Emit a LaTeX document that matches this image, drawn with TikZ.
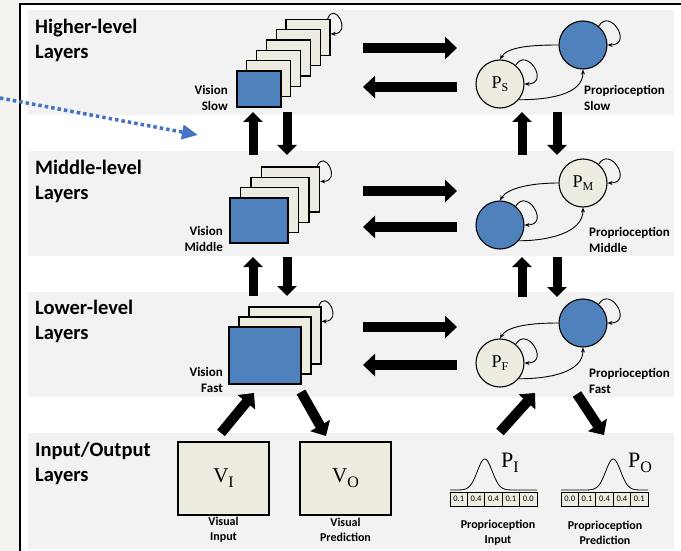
\documentclass[tikz,border=0pt]{standalone}
\usepackage{fontspec}
\setmainfont{Carlito}
\newfontfamily\symfont{Liberation Serif}
\usetikzlibrary{arrows.meta}
\definecolor{pageback}{HTML}{F4F3EF}
\definecolor{bandgray}{HTML}{F2F2F2}
\definecolor{unitblue}{HTML}{4F81BD}
\definecolor{unitbeige}{HTML}{EEECE1}
\definecolor{hintblue}{HTML}{4472C4}
% symbol with a lowered subscript: size, letter, subsize, subletter, drop
\newcommand\symsub[5]{{\symfont\fontsize{#1}{#1}\selectfont #2\raisebox{-#5pt}{\fontsize{#3}{#3}\selectfont #4}}}
\begin{document}
\begin{tikzpicture}[x=1pt,y=-1pt,
  band/.style={fill=bandgray},
  layerlabel/.style={font=\fontsize{20.5}{25}\selectfont\bfseries, align=left, anchor=north west, inner sep=0pt},
  sidelabel/.style={font=\fontsize{13}{16.5}\selectfont\bfseries, inner sep=0pt},
  caption/.style={font=\fontsize{12}{15}\selectfont\bfseries, align=center, inner sep=0pt},
  card/.style={draw, line width=1.3pt, fill=unitbeige, inner sep=0pt},
  frontcard/.style={card, fill=unitblue},
  unit/.style={circle, draw, line width=1.1pt, minimum size=48pt, inner sep=0pt},
  protounit/.style={unit, fill=unitbeige},
  blueunit/.style={unit, fill=unitblue},
  iobox/.style={draw, line width=1.8pt, fill=unitbeige, minimum width=91pt, minimum height=73pt, inner sep=0pt},
  cell/.style={draw, line width=0.8pt, fill=unitbeige, minimum width=17.4pt, minimum height=14pt, inner sep=0pt, font=\fontsize{8.5}{8.5}\selectfont},
  thinarrow/.style={line width=0.9pt, -{Stealth[length=5pt,width=4pt]}},
  vbig/.style={line width=9pt, -{Triangle[width=19pt,length=10pt]}},
  hbig/.style={line width=10pt, -{Triangle[width=22pt,length=12pt]}},
  dbig/.style={line width=10pt, -{Triangle[width=22pt,length=12pt]}},
]
\useasboundingbox (0,0) rectangle (681,551);
% page and frame
\fill[pageback] (0,0) rectangle (681,551);
\fill[white] (20,4) rectangle (681,551);
\draw[line width=2pt] (20,551) -- (20,4) -- (681,4);

% layer bands
\fill[band] (28,10) rectangle (674,115);
\fill[band] (28,151) rectangle (674,256);
\fill[band] (28,292) rectangle (674,397);
\fill[band] (28,433) rectangle (674,549);

% layer names
\node[layerlabel] (lhigh) at (35,19) {Higher-level\\Layers};
\node[layerlabel] (lmid) at (35,160) {Middle-level\\Layers};
\node[layerlabel] (llow) at (35,300) {Lower-level\\Layers};
\node[layerlabel] (lio) at (35,442) {Input/Output\\Layers};

% vision stacks
\foreach \i in {5,4,3,2,1}
  \node[card, minimum width=44pt, minimum height=36pt] (hs\i) at ({259+9.8*\i},{89-10.3*\i}) {};
\node[frontcard, minimum width=44pt, minimum height=36pt] (hs0) at (259,89) {};
\foreach \i in {3,2,1}
  \node[card, minimum width=58pt, minimum height=45pt] (ms\i) at ({259+10.5*\i},{220.5-10.3*\i}) {};
\node[frontcard, minimum width=58pt, minimum height=45pt] (ms0) at (259,220.5) {};
\foreach \i in {2,1}
  \node[card, minimum width=72pt, minimum height=57pt] (ls\i) at ({265+10*\i},{355.5-10*\i}) {};
\node[frontcard, minimum width=72pt, minimum height=57pt] (ls0) at (265,355.5) {};

\draw[thinarrow] ([xshift=-3pt]hs5.north east) .. controls +(70:20pt) and +(0:22pt) .. ([yshift=-15pt]hs5.north east);
\draw[thinarrow] ([xshift=-3pt]ms3.north east) .. controls +(70:20pt) and +(0:22pt) .. ([yshift=-15pt]ms3.north east);
\draw[thinarrow] ([xshift=-3pt]ls2.north east) .. controls +(70:20pt) and +(0:22pt) .. ([yshift=-15pt]ls2.north east);

\node[sidelabel, align=right, anchor=north east] (vslow) at (228,85) {Vision\\Slow};
\node[sidelabel, align=right, anchor=north east] (vmid) at (223,226) {Vision\\Middle};
\node[sidelabel, align=right, anchor=north east] (vfast) at (223,367) {Vision\\Fast};

% proprioception units
\node[blueunit] (b1) at (583,45) {};
\node[protounit] (ps) at (500,84) {\symsub{18}{P}{12}{S}{3}};
\node[protounit] (pm) at (583,183) {\symsub{18}{P}{12}{M}{3}};
\node[blueunit] (b2) at (500,225) {};
\node[blueunit] (b3) at (583,323) {};
\node[protounit] (pf) at (500,363) {\symsub{18}{P}{12}{F}{3}};

\foreach \top/\bot in {b1/ps, pm/b2, b3/pf} {
  \draw[thinarrow] (\top.west) .. controls +(180:25pt) and +(60:15pt) .. (\bot.north);
  \draw[thinarrow] (\bot.-40) .. controls +(0:30pt) and +(-90:25pt) .. (\top.south);
  \draw[thinarrow] (\top.50) .. controls +(60:22pt) and +(0:26pt) .. (\top.east);
  \draw[thinarrow] (\bot.50) .. controls +(60:22pt) and +(0:26pt) .. (\bot.east);
}

\node[sidelabel, align=left, anchor=north west] (pslow) at (584,85) {Proprioception\\Slow};
\node[sidelabel, align=left, anchor=north west] (pmid) at (589,227) {Proprioception\\Middle};
\node[sidelabel, align=left, anchor=north west] (pfast) at (589,368) {Proprioception\\Fast};

% arrow end points between the layers
\coordinate (vu1a) at (253,155); \coordinate (vu1b) at (253,112);
\coordinate (vd1a) at (287,112); \coordinate (vd1b) at (287,155);
\coordinate (vu2a) at (253,296); \coordinate (vu2b) at (253,257);
\coordinate (vd2a) at (287,257); \coordinate (vd2b) at (287,296);
\coordinate (pu1a) at (522,155); \coordinate (pu1b) at (522,112);
\coordinate (pd1a) at (557,112); \coordinate (pd1b) at (557,155);
\coordinate (pu2a) at (522,297); \coordinate (pu2b) at (522,257);
\coordinate (pd2a) at (557,257); \coordinate (pd2b) at (557,297);
\foreach \s in {vu1,vd1,vu2,vd2,pu1,pd1,pu2,pd2}
  \draw[vbig] (\s a) -- (\s b);

\coordinate (hr1a) at (363,48);  \coordinate (hr1b) at (457,48);
\coordinate (hl1a) at (457,87);  \coordinate (hl1b) at (363,87);
\coordinate (hr2a) at (363,191); \coordinate (hr2b) at (457,191);
\coordinate (hl2a) at (457,227); \coordinate (hl2b) at (363,227);
\coordinate (hr3a) at (363,327); \coordinate (hr3b) at (457,327);
\coordinate (hl3a) at (457,365); \coordinate (hl3b) at (363,365);
\foreach \s in {hr1,hl1,hr2,hl2,hr3,hl3}
  \draw[hbig] (\s a) -- (\s b);

% input / output layer
\node[iobox] (vi) at (223.5,478.5) {\symsub{21}{V}{16}{I}{5}};
\node[iobox] (vo) at (345.5,478.5) {\symsub{21}{V}{16}{O}{5}};
\node[caption] (vicap) at (223.5,530) {Visual\\Input};
\node[caption] (vocap) at (345.5,530) {Visual\\Prediction};

\coordinate (dvu) at (221,433); \coordinate (dvuTip) at (254,393);
\coordinate (dvd) at (301,392); \coordinate (dvdTip) at (326,436);
\coordinate (dpu) at (500,432); \coordinate (dpuTip) at (535,393);
\coordinate (dpd) at (577,394); \coordinate (dpdTip) at (604,435);
\draw[dbig] (dvu) -- (dvuTip);
\draw[dbig] (dvd) -- (dvdTip);
\draw[dbig] (dpu) -- (dpuTip);
\draw[dbig] (dpd) -- (dpdTip);

% distributions over proprioceptive bins
\draw[line width=0.8pt] plot[domain=450:537, samples=90, smooth] (\x, {490-31*exp(-(\x-484.8)^2/110)});
\draw[line width=0.8pt] plot[domain=561:648, samples=90, smooth] (\x, {490-31*exp(-(\x-613.2)^2/110)});
\foreach \v [count=\k] in {0.1,0.4,0.4,0.1,0.0}
  \node[cell] (pi\k) at ({450+8.7+17.4*(\k-1)},499) {\v};
\foreach \v [count=\k] in {0.0,0.1,0.4,0.4,0.1}
  \node[cell] (po\k) at ({561+8.7+17.4*(\k-1)},499) {\v};
\node[inner sep=0pt] (pilabel) at (510,463) {\symsub{22}{P}{16}{I}{5}};
\node[inner sep=0pt] (polabel) at (640,463) {\symsub{22}{P}{16}{O}{5}};
\node[caption] (picap) at (498,533) {Proprioception\\Input};
\node[caption] (pocap) at (605,533) {Proprioception\\Prediction};

% dotted pointer
\coordinate (hintstart) at (0,98);
\coordinate (hinttip) at (198,135);
\draw[hintblue, line width=3.5pt, dash pattern=on 3.5pt off 3pt, -{Triangle[width=14pt,length=16pt]}] (hintstart) -- (hinttip);
\end{tikzpicture}
\end{document}
